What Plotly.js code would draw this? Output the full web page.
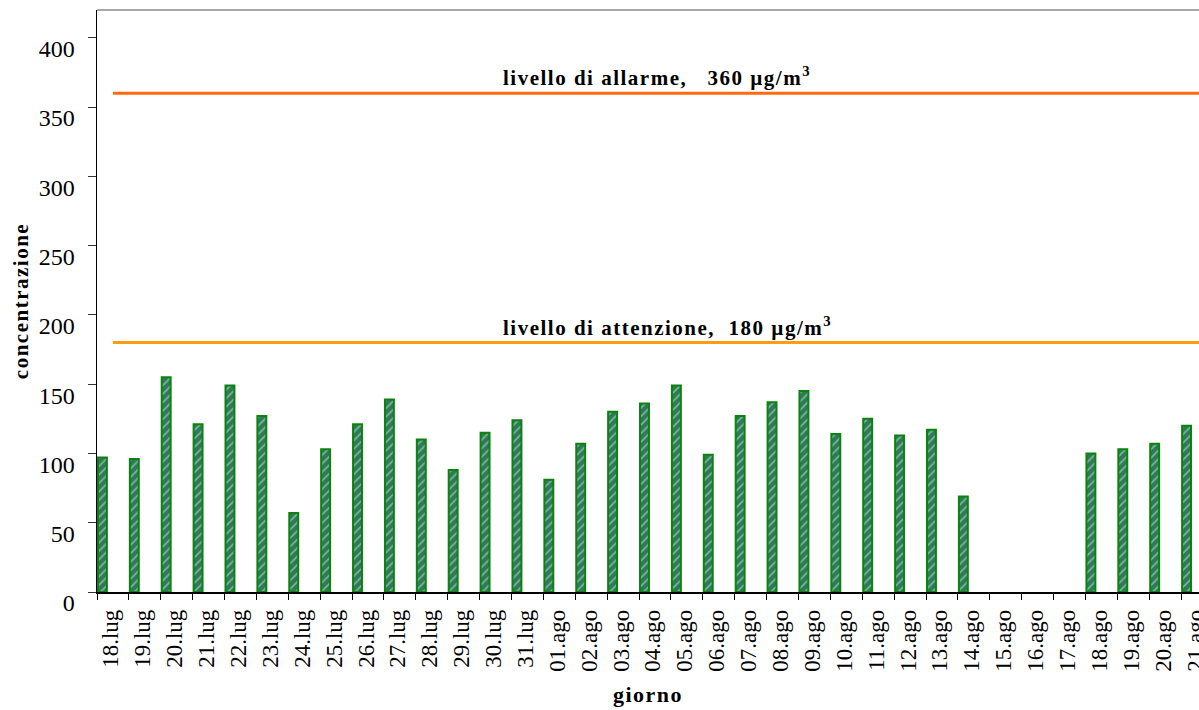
<!DOCTYPE html>
<html>
<head>
<meta charset="utf-8">
<script src="https://cdn.plot.ly/plotly-3.0.1.min.js"></script>
<style>
  html, body { margin: 0; padding: 0; background: #ffffff; }
  #chart { width: 1199px; height: 710px; }
  .annotation-text { letter-spacing: 1.5px; }
  .g-xtitle text, .g-ytitle text { letter-spacing: 1.5px; }
</style>
</head>
<body>
<div id="chart"></div>
<script>
// Giorni di misura
const giorni = [
  "18.lug", "19.lug", "20.lug", "21.lug", "22.lug", "23.lug", "24.lug",
  "25.lug", "26.lug", "27.lug", "28.lug", "29.lug", "30.lug", "31.lug",
  "01.ago", "02.ago", "03.ago", "04.ago", "05.ago", "06.ago", "07.ago",
  "08.ago", "09.ago", "10.ago", "11.ago", "12.ago", "13.ago", "14.ago",
  "15.ago", "16.ago", "17.ago", "18.ago", "19.ago", "20.ago", "21.ago"
];

// Concentrazione massima giornaliera (µg/m³); null = dato mancante
const concentrazione = [
  97, 96, 155, 121, 149, 127, 57,
  103, 121, 139, 110, 88, 115, 124,
  81, 107, 130, 136, 149, 99, 127,
  137, 145, 114, 125, 113, 117, 69,
  null, null, null, 100, 103, 107, 120
];

// Soglie di riferimento (µg/m³)
const sogliaAttenzione = 180;
const sogliaAllarme = 360;

const yTicks = [0, 50, 100, 150, 200, 250, 300, 350, 400];

const serif = "'Liberation Serif', 'Times New Roman', serif";

const barre = {
  type: "bar",
  x: giorni,
  y: concentrazione,
  offset: -0.47,
  width: 0.28,
  marker: {
    color: "#3a8466",
    line: { color: "#0a840a", width: 2 },
    pattern: {
      shape: "/",
      fgcolor: "#72b89b",
      bgcolor: "#33765c",
      size: 6,
      solidity: 0.3,
      fillmode: "replace"
    }
  },
  hoverinfo: "x+y"
};

const layout = {
  width: 1199,
  height: 710,
  margin: { l: 97, r: 0, t: 10, b: 118 },
  paper_bgcolor: "#ffffff",
  plot_bgcolor: "#ffffff",
  showlegend: false,
  bargap: 0,
  font: { family: serif, color: "#000000" },
  xaxis: {
    type: "category",
    range: [-0.5, 34.06],
    tickson: "boundaries",
    ticks: "outside",
    ticklen: 6,
    tickcolor: "#000000",
    tickwidth: 1,
    tickangle: -90,
    ticklabelshift: -2,
    ticklabelstandoff: 7,
    tickfont: { family: serif, size: 23, color: "#000000" },
    showline: true,
    linecolor: "#000000",
    linewidth: 1.5,
    showgrid: false,
    zeroline: false,
    title: {
      text: "<b>giorno</b>",
      font: { family: serif, size: 22, color: "#000000" },
      standoff: 16
    }
  },
  yaxis: {
    range: [0, 420],
    tickvals: yTicks,
    ticktext: yTicks.map(String),
    ticks: "outside",
    ticklen: 8,
    tickcolor: "#333333",
    tickwidth: 1,
    ticklabelshift: 11,
    ticklabelstandoff: 8,
    tickfont: { family: serif, size: 24, color: "#000000" },
    showline: true,
    linecolor: "#000000",
    linewidth: 1.5,
    showgrid: false,
    zeroline: false,
    title: {
      text: "<b>concentrazione</b>",
      font: { family: serif, size: 21, color: "#000000" },
      standoff: 4
    }
  },
  shapes: [
    // bordo superiore dell'area del grafico
    { type: "line", xref: "paper", yref: "paper", x0: 0, x1: 1, y0: 1, y1: 1,
      line: { color: "#8a8a8a", width: 1.5 } },
    // livello di allarme
    { type: "line", xref: "x", yref: "y", x0: 0, x1: 35,
      y0: sogliaAllarme, y1: sogliaAllarme,
      line: { color: "#ff6a10", width: 3 } },
    // livello di attenzione
    { type: "line", xref: "x", yref: "y", x0: 0, x1: 35,
      y0: sogliaAttenzione, y1: sogliaAttenzione,
      line: { color: "#ff9c14", width: 3 } }
  ],
  annotations: [
    { xref: "paper", yref: "y", x: 0.367, y: sogliaAllarme,
      xanchor: "left", yanchor: "bottom", yshift: 1, showarrow: false,
      text: "<b>livello di allarme,   " + sogliaAllarme + " µg/m<sup>3</sup></b>",
      font: { family: serif, size: 21, color: "#000000" } },
    { xref: "paper", yref: "y", x: 0.367, y: sogliaAttenzione,
      xanchor: "left", yanchor: "bottom", yshift: 1, showarrow: false,
      text: "<b>livello di attenzione,  " + sogliaAttenzione + " µg/m<sup>3</sup></b>",
      font: { family: serif, size: 21, color: "#000000" } }
  ]
};

Plotly.newPlot("chart", [barre], layout, { displayModeBar: false, staticPlot: true });
</script>
</body>
</html>
